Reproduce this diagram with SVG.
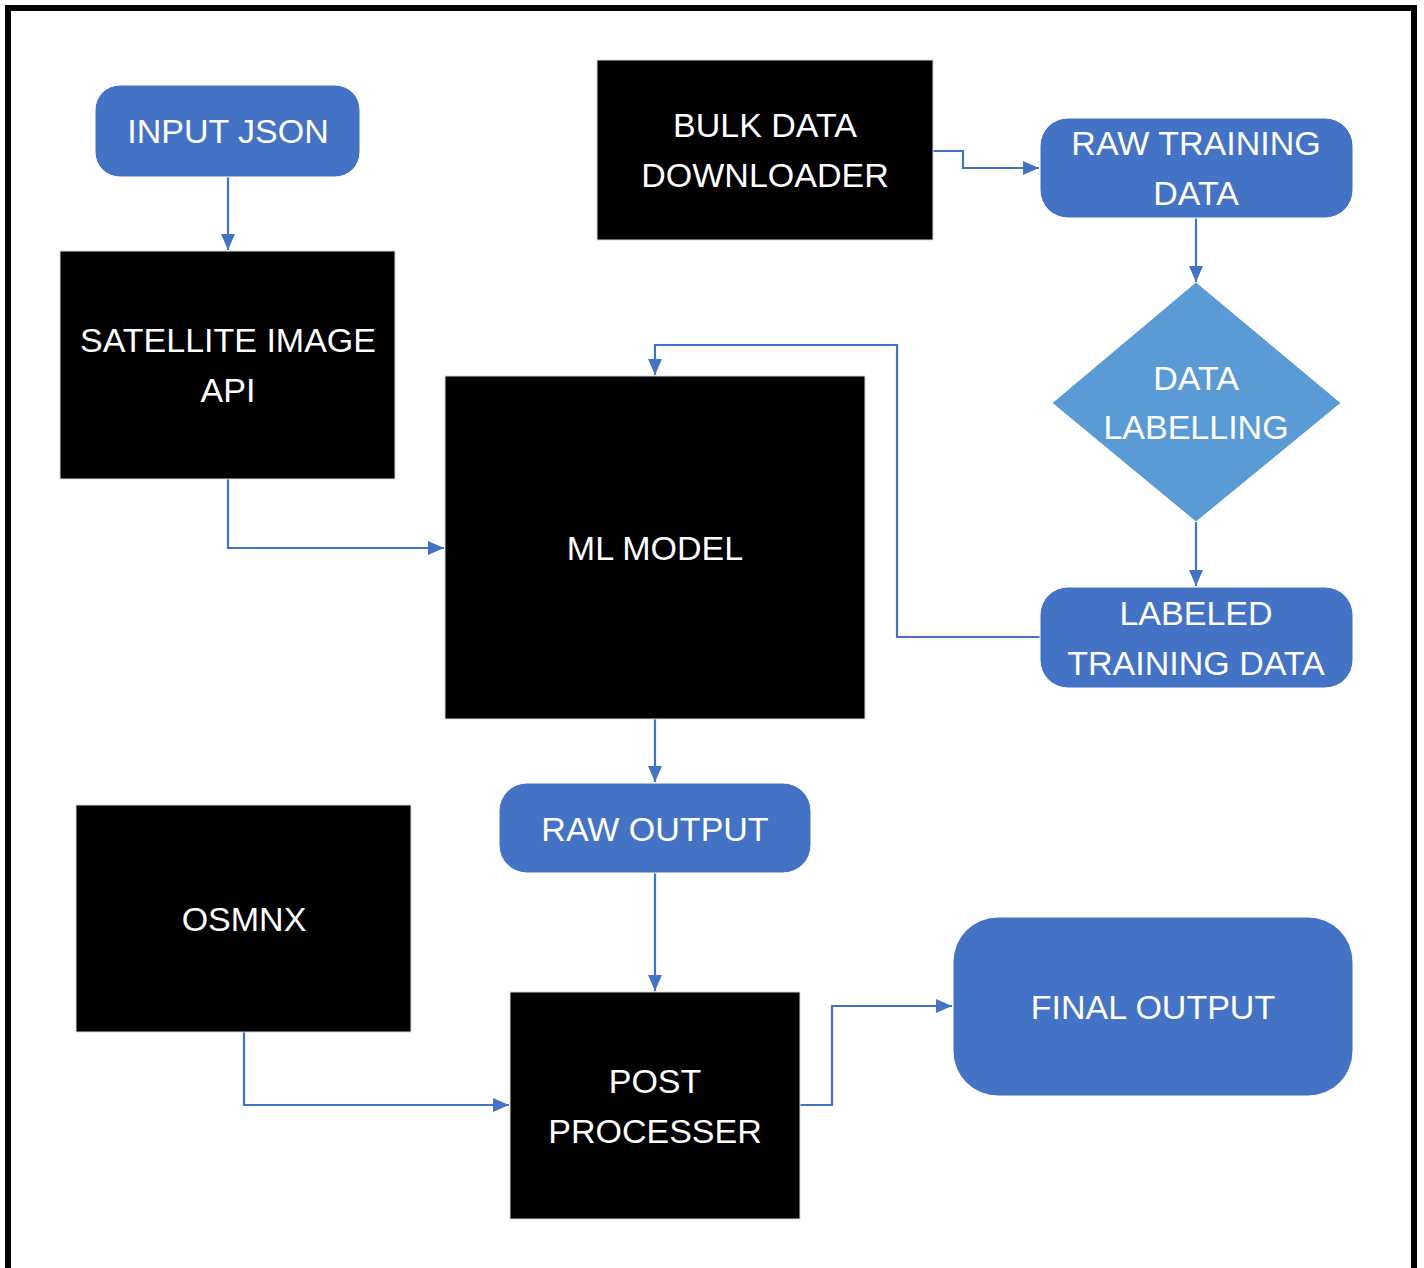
<svg xmlns="http://www.w3.org/2000/svg" width="1424" height="1268" viewBox="0 0 1424 1268">
<style>
.blk{fill:#000;stroke:#d9d9d9;stroke-width:1}
.rnd{fill:#4472C4;stroke:#ffffff;stroke-width:1}
.dia{fill:#5B9BD5;stroke:#ffffff;stroke-width:1}
.t{font-family:"Liberation Sans",Arial,sans-serif;font-size:34px;fill:#fff;text-anchor:middle}
.c{fill:none;stroke:#4472C4;stroke-width:2.2}
</style>
<defs>
<marker id="a" viewBox="0 0 16 14" refX="16" refY="7" markerWidth="16" markerHeight="14" markerUnits="userSpaceOnUse" orient="auto">
<path d="M0,0 L16,7 L0,14 z" fill="#4472C4"/>
</marker>
</defs>
<rect x="0" y="0" width="1424" height="1268" fill="#fff"/>
<rect x="8" y="8" width="1406" height="1300" fill="none" stroke="#000" stroke-width="6"/>
<g id="connectors">
<path class="c" d="M228,177 V250" marker-end="url(#a)"/>
<path class="c" d="M933,151 H963 V168 H1039" marker-end="url(#a)"/>
<path class="c" d="M1196,218 V282" marker-end="url(#a)"/>
<path class="c" d="M1196,522 V586" marker-end="url(#a)"/>
<path class="c" d="M1040,637 H897 V345 H655 V375" marker-end="url(#a)"/>
<path class="c" d="M228,479 V548 H444" marker-end="url(#a)"/>
<path class="c" d="M655,719 V782" marker-end="url(#a)"/>
<path class="c" d="M655,873 V991" marker-end="url(#a)"/>
<path class="c" d="M244,1032 V1105 H509" marker-end="url(#a)"/>
<path class="c" d="M800,1105 H832 V1006 H952" marker-end="url(#a)"/>
</g>
<g id="input-json">
<rect class="rnd" x="95" y="85" width="265" height="92" rx="25"/>
<text class="t" x="228" y="143">INPUT JSON</text>
</g>
<g id="satellite-image-api">
<rect class="blk" x="60" y="251" width="335" height="228"/>
<text class="t" x="228" y="352">SATELLITE IMAGE</text>
<text class="t" x="228" y="402">API</text>
</g>
<g id="bulk-data-downloader">
<rect class="blk" x="597" y="60" width="336" height="180"/>
<text class="t" x="765" y="137">BULK DATA</text>
<text class="t" x="765" y="187">DOWNLOADER</text>
</g>
<g id="raw-training-data">
<rect class="rnd" x="1040" y="118" width="313" height="100" rx="28"/>
<text class="t" x="1196" y="155">RAW TRAINING</text>
<text class="t" x="1196" y="205">DATA</text>
</g>
<g id="data-labelling">
<polygon class="dia" points="1196,282 1341,403 1196,522 1052,403"/>
<text class="t" x="1196" y="390">DATA</text>
<text class="t" x="1196" y="439">LABELLING</text>
</g>
<g id="labeled-training-data">
<rect class="rnd" x="1040" y="587" width="313" height="101" rx="28"/>
<text class="t" x="1196" y="625">LABELED</text>
<text class="t" x="1196" y="675">TRAINING DATA</text>
</g>
<g id="ml-model">
<rect class="blk" x="445" y="376" width="420" height="343"/>
<text class="t" x="655" y="560">ML MODEL</text>
</g>
<g id="raw-output">
<rect class="rnd" x="499" y="783" width="312" height="90" rx="28"/>
<text class="t" x="655" y="841">RAW OUTPUT</text>
</g>
<g id="osmnx">
<rect class="blk" x="76" y="805" width="335" height="227"/>
<text class="t" x="244" y="931">OSMNX</text>
</g>
<g id="post-processer">
<rect class="blk" x="510" y="992" width="290" height="227"/>
<text class="t" x="655" y="1093">POST</text>
<text class="t" x="655" y="1143">PROCESSER</text>
</g>
<g id="final-output">
<rect class="rnd" x="953" y="917" width="400" height="179" rx="45"/>
<text class="t" x="1153" y="1019">FINAL OUTPUT</text>
</g>
</svg>
